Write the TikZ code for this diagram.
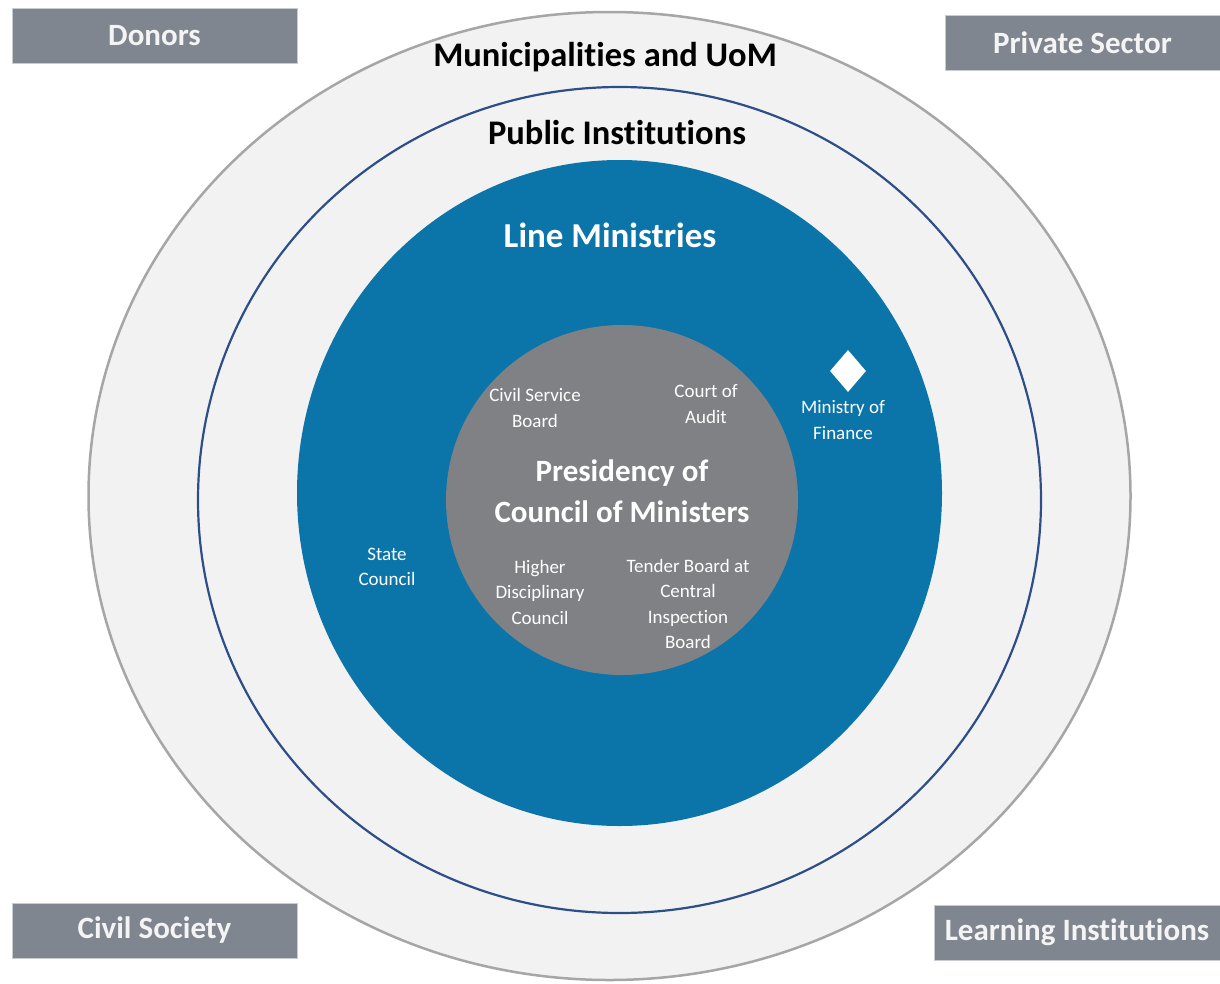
\documentclass[tikz,border=0pt]{standalone}
\usepackage{fontspec}
\setmainfont{Carlito}[Ligatures={NoCommon}]
\usetikzlibrary{shapes.geometric}
\definecolor{ringfill}{HTML}{F2F2F2}
\definecolor{ringline}{HTML}{A6A6A6}
\definecolor{navyline}{HTML}{2E4E8A}
\definecolor{lineblue}{HTML}{0B74A9}
\definecolor{coregrey}{HTML}{808185}
\definecolor{boxgrey}{HTML}{7F868F}
\definecolor{boxline}{HTML}{C8CBCF}
\definecolor{boxtext}{HTML}{F4F4F4}
\tikzset{
  sidebox/.style={rectangle, fill=boxgrey, draw=boxline, line width=1pt, inner sep=0pt,
    text=boxtext, font=\fontsize{31}{36}\selectfont\bfseries, minimum height=55pt},
  ringlabel/.style={inner sep=0pt, text=black, font=\fontsize{34.5}{40}\selectfont\bfseries},
  bluelabel/.style={inner sep=0pt, text=white, font=\fontsize{35}{40}\selectfont\bfseries},
  corelabel/.style={inner sep=0pt, text=white, align=center, font=\fontsize{31}{41}\selectfont\bfseries},
  smalllabel/.style={inner sep=0pt, text=white, align=center, font=\fontsize{19}{25.5}\selectfont},
}
\begin{document}
\begin{tikzpicture}[x=1pt,y=-1pt]
\useasboundingbox (0,0) rectangle (1220,983);
\fill[white] (0,0) rectangle (1220,983);
% rings
\draw[fill=ringfill, draw=ringline, line width=2.5pt] (609.5,496) ellipse [x radius=521pt, y radius=484pt];
\draw[fill=ringfill, draw=navyline, line width=2.2pt] (619.5,500) ellipse [x radius=421.5pt, y radius=413pt];
\fill[lineblue] (619.5,493) ellipse [x radius=322.5pt, y radius=333pt];
\fill[coregrey] (622,500) ellipse [x radius=176pt, y radius=175pt];
% side boxes
\node[sidebox, minimum width=285pt] (donors) at (154.5,35.5) {Donors};
\node[sidebox, minimum width=275pt] (private) at (1082.5,42.5) {Private Sector};
\node[sidebox, minimum width=285pt] (civil) at (154.5,930.5) {Civil Society};
\node[sidebox, minimum width=286pt] (learning) at (1077,932.5) {Learning Institutions};
% ring labels
\node[ringlabel] (muni) at (605,57) {Municipalities and UoM};
\node[ringlabel] (public) at (617,133) {Public Institutions};
\node[bluelabel] (line) at (610,235) {Line Ministries};
\node[corelabel] (pres) at (622,491) {Presidency of\\Council of Ministers};
% small labels
\node[smalllabel] (csb) at (535,408) {Civil Service\\Board};
\node[smalllabel] (coa) at (706,404) {Court of\\Audit};
\node[smalllabel] (hdc) at (540,592) {Higher\\Disciplinary\\Council};
\node[smalllabel] (tb) at (688,604) {Tender Board at\\Central\\Inspection\\Board};
\node[smalllabel] (sc) at (387,567) {State\\Council};
\node[smalllabel] (mof) at (843,420) {Ministry of\\Finance};
\node[diamond, fill=white, inner sep=0pt, minimum width=36pt, minimum height=42pt] (mofmark) at (848,371) {};
\end{tikzpicture}
\end{document}
